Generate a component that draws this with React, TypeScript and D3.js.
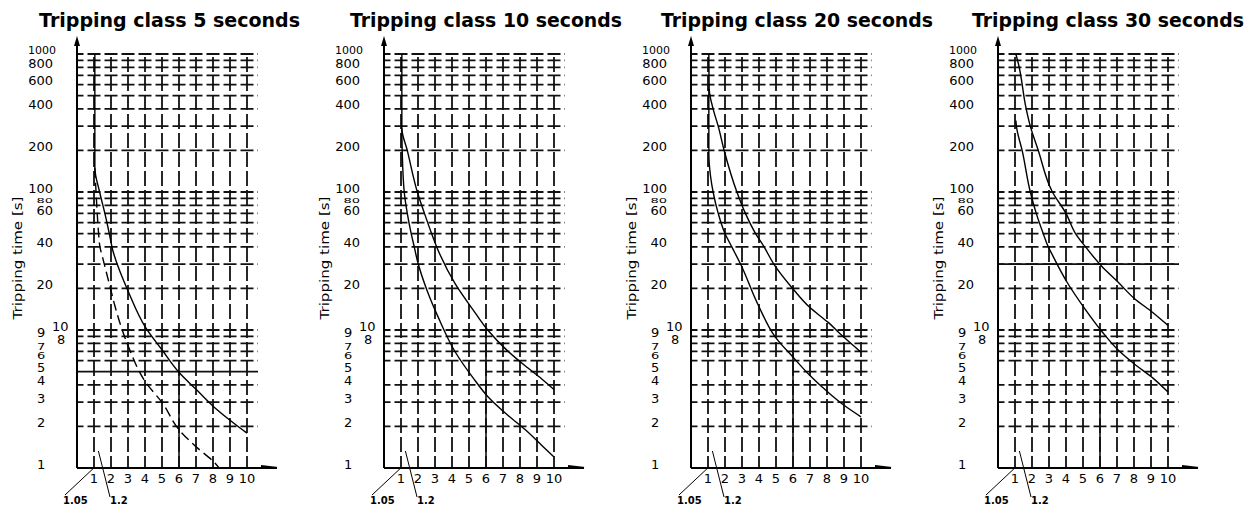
import React from "react";
import * as d3 from "d3";

// Tripping characteristics of motor protection relays, one panel per class
const titles = [
  "Tripping class 5 seconds",
  "Tripping class 10 seconds",
  "Tripping class 20 seconds",
  "Tripping class 30 seconds",
];

const xTicks = [1, 2, 3, 4, 5, 6, 7, 8, 9, 10];
const yLabels = [1000, 800, 600, 400, 200, 100, 80, 60, 40, 20, 10, 9, 8, 7, 6, 5, 4, 3, 2, 1];
const yGrid = [1000, 900, 800, 700, 600, 500, 400, 300, 200, 100, 90, 80, 70, 60, 50, 40, 30, 20, 10, 9, 8, 7, 6, 5, 4, 3, 2];

// [multiple of set current, tripping time in s]
const class5Upper = [[1.05, 1000], [1.05, 150], [1.33, 100], [1.64, 70], [1.9, 50], [2.1, 38], [3.04, 18.7], [4.04, 10.4], [5.03, 7.1], [6.02, 4.9], [7.02, 3.7], [8.07, 2.76], [9, 2.22], [10, 1.79]];
const class5Lower = [[1.05, 150], [1.12, 100], [1.19, 70], [1.27, 50], [1.35, 40], [1.52, 33], [2.0, 19.3], [2.22, 15.1], [3.04, 7.5], [4.04, 4.18], [5.03, 2.95], [6.02, 1.88], [7.02, 1.42], [8.07, 1.1], [8.36, 1.0]];

const class10Upper = [[1.05, 1000], [1.05, 290], [1.37, 200], [1.96, 100], [2.38, 70], [2.8, 50], [3.1, 40], [4.2, 21.5], [5.24, 14], [6.1, 10], [7.3, 7], [8.3, 5.5], [9.3, 4.4], [10, 3.7]];
const class10Lower = [[1.05, 290], [1.07, 200], [1.19, 100], [1.37, 70], [1.6, 50], [1.78, 40], [1.96, 31.9], [2.6, 18.4], [3.2, 12.3], [4.2, 6.9], [5.24, 4.5], [6.1, 3.3], [7.3, 2.4], [8.3, 1.9], [9.3, 1.45], [10, 1.2]];

const class20Upper = [[1.05, 1000], [1.07, 560], [1.3, 400], [1.6, 300], [1.95, 200], [2.7, 100], [3.2, 70], [3.8, 50], [4.3, 40], [4.85, 30.3], [5.98, 20], [6.98, 14.6], [8.05, 11.4], [9.0, 8.85], [10, 6.9]];
const class20Lower = [[1.05, 560], [1.05, 190], [1.15, 130], [1.3, 100], [1.6, 70], [2.0, 50], [2.4, 40], [2.9, 30.3], [3.96, 15.1], [4.97, 8.85], [5.98, 6.4], [6.98, 4.7], [8.05, 3.55], [9.0, 2.85], [10, 2.35]];

const class30Upper = [[1.05, 1000], [1.2, 850], [1.66, 400], [1.9, 300], [2.37, 200], [3.2, 100], [4.0, 70], [4.56, 50], [5.15, 40], [6.1, 29], [7.1, 22], [8.0, 17], [9.1, 13.4], [10, 10.8]];
const class30Lower = [[1.05, 330], [1.1, 290], [1.42, 200], [1.9, 100], [2.25, 70], [2.66, 50], [2.96, 40], [3.07, 37.6], [4.08, 22], [5.1, 14.3], [6.1, 9.8], [7.1, 7.1], [8.0, 5.7], [9.1, 4.5], [10, 3.55]];

const upperCurves = [class5Upper, class10Upper, class20Upper, class30Upper];
const lowerCurves = [class5Lower, class10Lower, class20Lower, class30Lower];

const font = "DejaVu Sans, sans-serif";
const ink = "#111";

function Panel({ index }: { index: number }) {
  const axisX = 77 + index * 307;
  const baseY = 468;
  const x = d3.scaleLinear().domain([0, 10]).range([axisX, axisX + 170]);
  const y = d3.scaleLog().domain([1, 1000]).range([baseY, 54]);
  const gridRight = axisX + 181;
  const step = x(1) - x(0);

  const line = d3
    .line<number[]>()
    .x((d) => x(d[0]))
    .y((d) => y(d[1]))
    .curve(d3.curveMonotoneY);

  const labelX = (v: number) => {
    if (v === 1000) return { x: axisX - 35, anchor: "middle" };
    if (v === 10) return { x: axisX - 25, anchor: "start" };
    if (v === 8) return { x: axisX - 20, anchor: "start" };
    if (v < 10) return { x: axisX - 40, anchor: "start" };
    return { x: axisX - 24, anchor: "end" };
  };
  const labelNudge = (v: number) => (v === 60 ? -12 : v === 80 ? -5 : -4);
  const squeeze = (v: number) => (v === 7 || v === 6 ? 0.62 : v === 80 ? 0.6 : 1);

  return (
    <g>
      <text
        x={axisX - 38 + index * 4}
        y={27}
        fontFamily={font}
        fontWeight="bold"
        fontSize={19}
        textLength={titles[index].length * 11 - 3}
        lengthAdjust="spacingAndGlyphs"
        fill="#000"
      >
        {titles[index]}
      </text>

      {/* horizontal grid, gaps half way between the verticals */}
      {yGrid.map((v) => {
        const start = v === 5 && index > 0 ? x(6) : axisX;
        return (
          <line
            key={"h" + v}
            x1={start}
            x2={gridRight}
            y1={y(v)}
            y2={y(v)}
            stroke={ink}
            strokeWidth={1.8}
            strokeDasharray={v === 5 && index === 0 ? undefined : `${step - 4} 4`}
            strokeDashoffset={step / 2 - 2 + (start - axisX)}
          />
        );
      })}
      {index === 3 && (
        <line x1={axisX} x2={gridRight} y1={y(30)} y2={y(30)} stroke={ink} strokeWidth={1.6} />
      )}

      {/* vertical grid */}
      {xTicks.map((v) => (
        <line
          key={"v" + v}
          x1={x(v)}
          x2={x(v)}
          y1={y(1000) - 1}
          y2={baseY}
          stroke={ink}
          strokeWidth={1.8}
          strokeDasharray="15 4"
          strokeDashoffset={-4}
        />
      ))}
      <line x1={x(6)} x2={x(6)} y1={index === 0 ? y(5) : y(10)} y2={baseY} stroke={ink} strokeWidth={1.6} />

      {/* axes */}
      <line x1={axisX} x2={axisX} y1={baseY} y2={42} stroke="#000" strokeWidth={2} />
      <path d={`M${axisX - 3},46 L${axisX},36 L${axisX + 3},46 Z`} fill="#000" />
      <line x1={axisX} x2={axisX + 200} y1={baseY} y2={baseY} stroke="#000" strokeWidth={2} />
      <path d={`M${axisX + 184},${baseY - 3} L${axisX + 201},${baseY - 1} L${axisX + 184},${baseY + 1} Z`} fill="#000" />

      {/* curves */}
      <path d={line(upperCurves[index]) ?? ""} fill="none" stroke="#000" strokeWidth={1.4} />
      <path
        d={line(lowerCurves[index]) ?? ""}
        fill="none"
        stroke="#000"
        strokeWidth={1.4}
        strokeDasharray={index === 0 ? "10 5" : undefined}
      />

      {/* y tick labels */}
      {yLabels.map((v) => {
        const p = labelX(v);
        return (
          <text
            key={"yl" + v}
            transform={`translate(${p.x},${y(v) + labelNudge(v)}) scale(1,${squeeze(v)})`}
            dy="0.35em"
            textAnchor={p.anchor as any}
            fontFamily={font}
            fontSize={v === 1000 ? 11 : 13}
            fill="#000"
          >
            {v}
          </text>
        );
      })}

      {/* x tick labels */}
      {xTicks.map((v) => (
        <text
          key={"xl" + v}
          x={x(v)}
          y={baseY + 15}
          textAnchor="middle"
          fontFamily={font}
          fontSize={13}
          fill="#000"
        >
          {v}
        </text>
      ))}

      {/* 1.05 and 1.2 markers */}
      <line x1={x(1.05)} y1={baseY - 1} x2={axisX - 12} y2={baseY + 27} stroke="#000" strokeWidth={1} />
      <text x={axisX - 14} y={baseY + 36} fontFamily={font} fontSize={10} fontWeight="bold" fill="#000">
        1.05
      </text>
      <line x1={x(1.2) + 1} y1={baseY - 17} x2={axisX + 33} y2={baseY + 29} stroke="#000" strokeWidth={1} />
      <text x={axisX + 33} y={baseY + 36} fontFamily={font} fontSize={10} fontWeight="bold" fill="#000">
        1.2
      </text>

      <text
        transform={`translate(${axisX - 60},258) rotate(-90)`}
        textAnchor="middle"
        dy="0.35em"
        fontFamily={font}
        fontSize={13}
        textLength={123}
        lengthAdjust="spacingAndGlyphs"
        fill="#000"
      >
        Tripping time [s]
      </text>
    </g>
  );
}

export default function App() {
  return (
    <svg
      width={1252}
      height={509}
      style={{ position: "absolute", left: 0, top: 0, background: "#fff" }}
    >
      {titles.map((t, i) => (
        <Panel key={t} index={i} />
      ))}
    </svg>
  );
}
